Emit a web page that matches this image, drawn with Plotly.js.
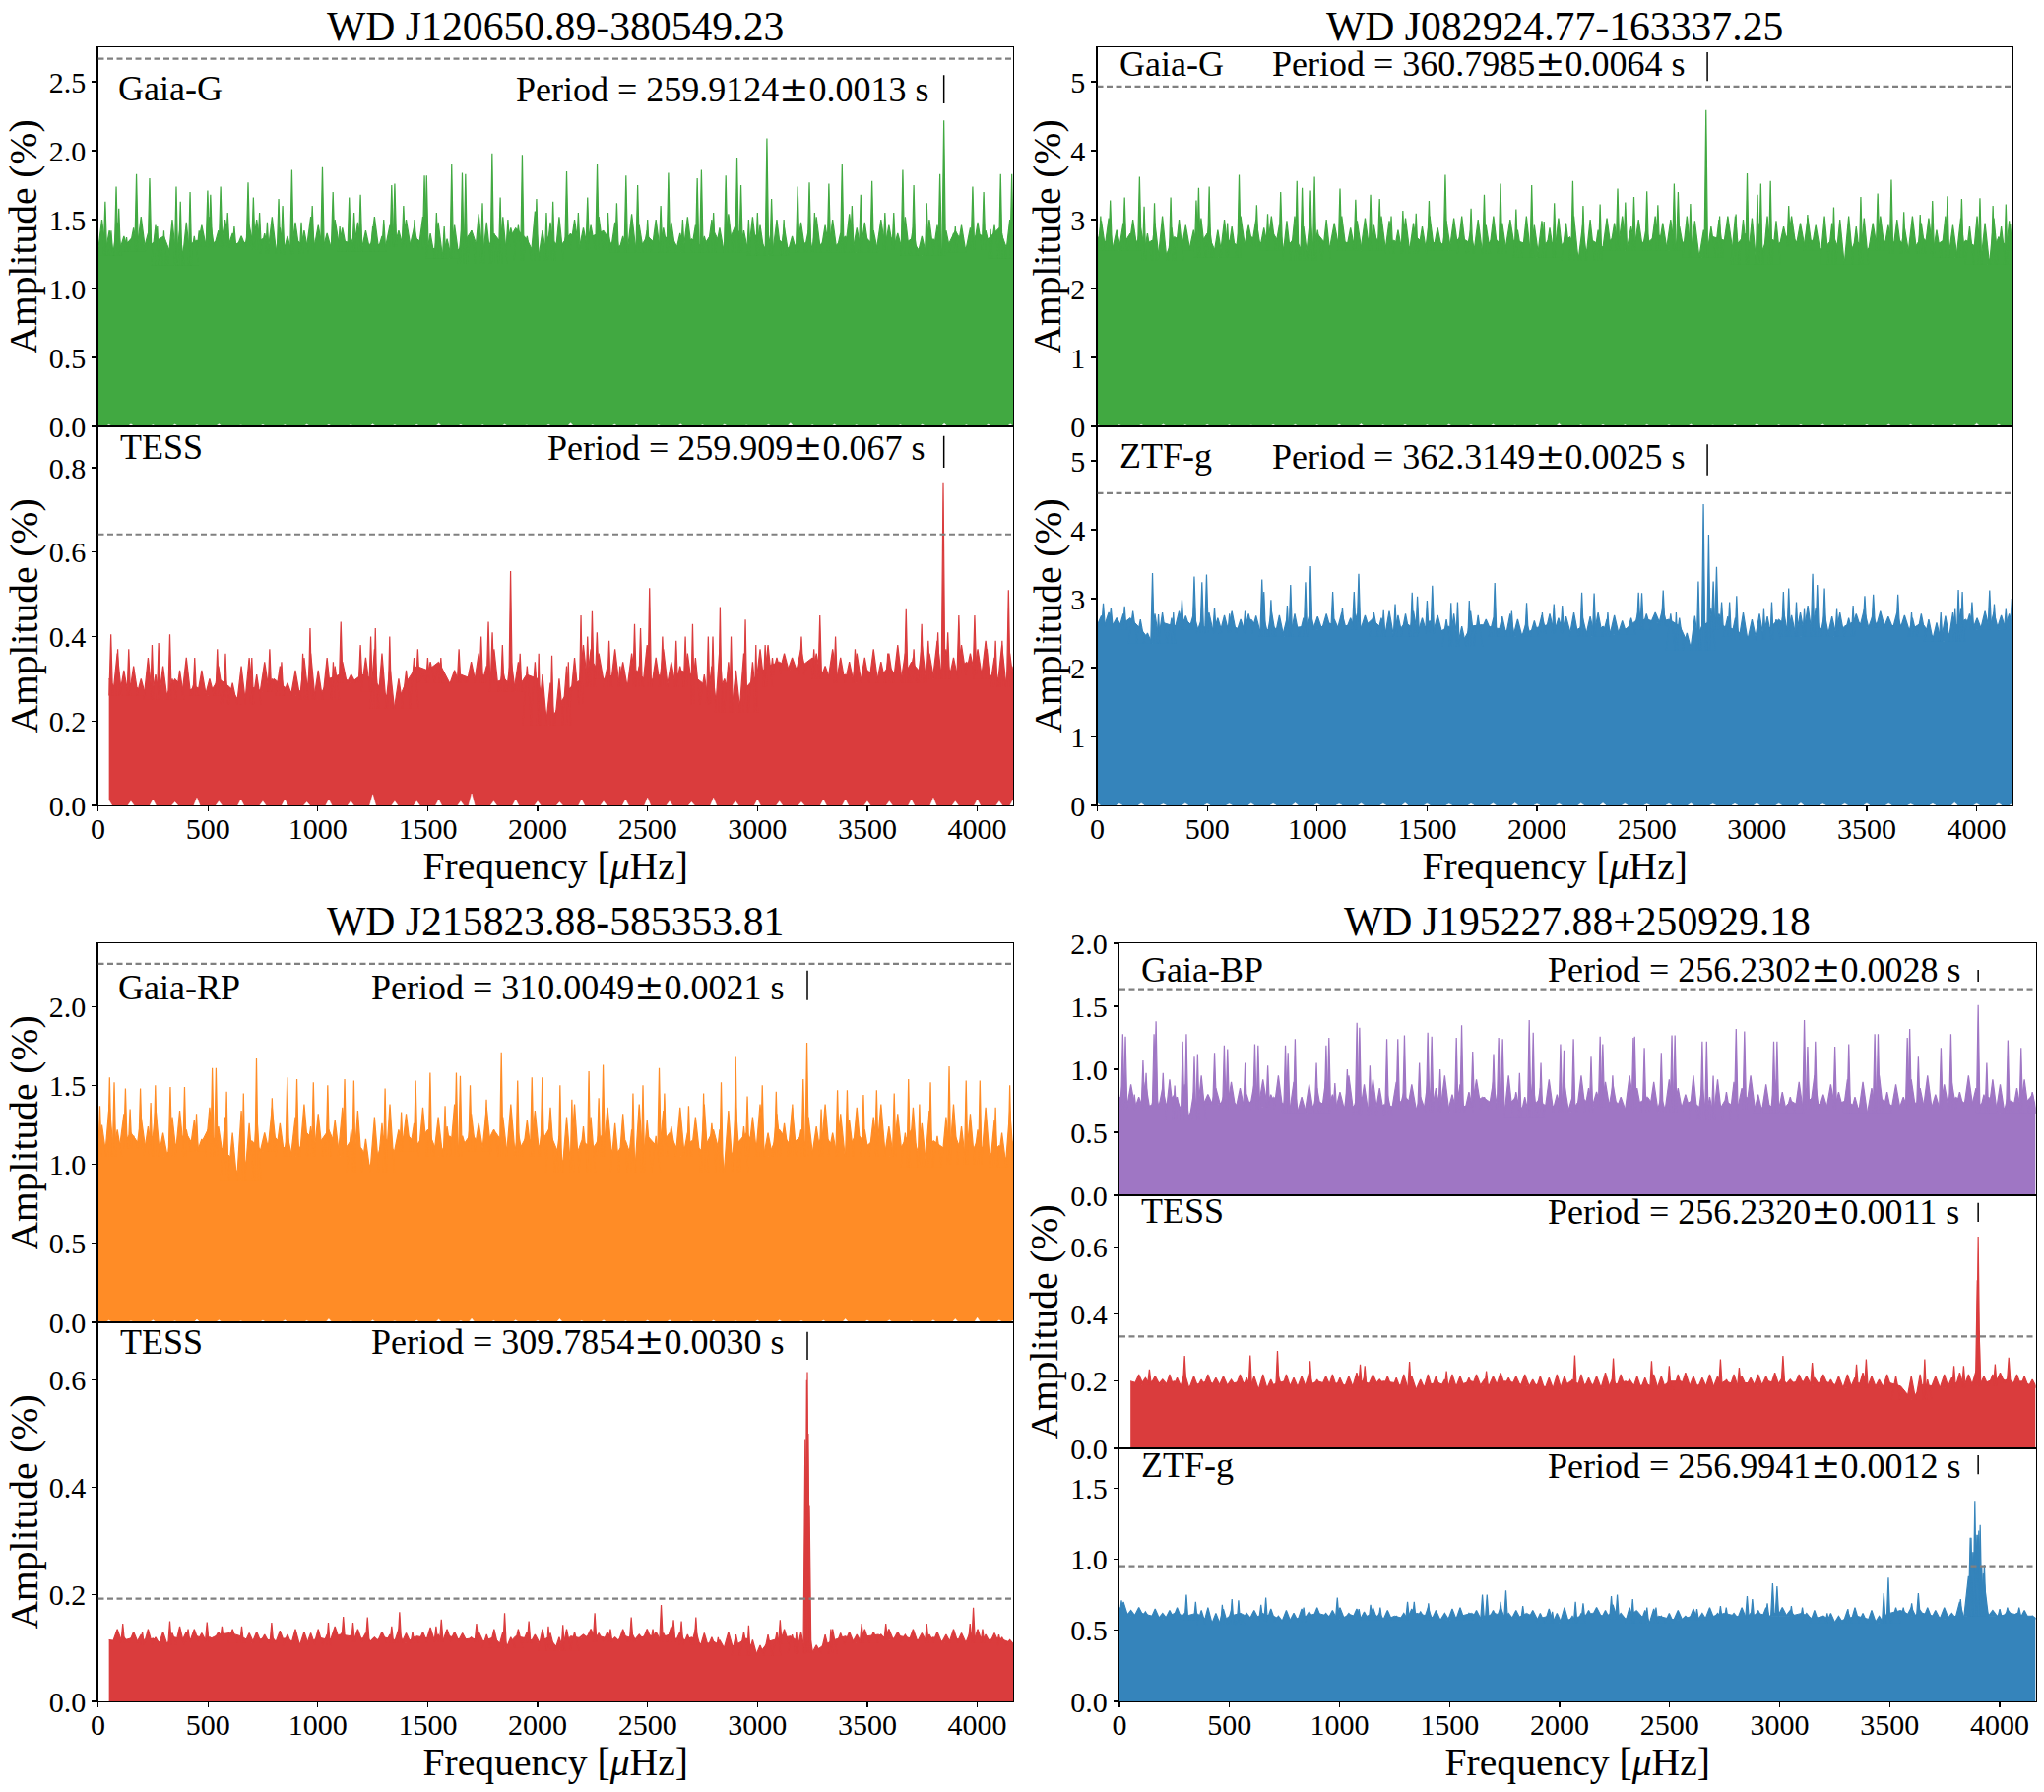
<!DOCTYPE html>
<html>
<head>
<meta charset="utf-8">
<script src="https://cdn.plot.ly/plotly-3.0.1.min.js"></script>
<style>html,body{margin:0;padding:0;background:#fff}</style>
</head>
<body>
<div id="chart"></div>
<script>
// frequency grid (uHz) for the dense part of the periodograms
var freqGrid = [0,50,100,150,200,250,300,350,400,450,500,550,600,650,700,750,800,
  850,900,950,1000,1050,1100,1150,1200,1250,1300,1350,1400,1450,1500,1550,1600,1650,
  1700,1750,1800,1850,1900,1950,2000,2050,2100,2150,2200,2250,2300,2350,2400,2450,2500,
  2550,2600,2650,2700,2750,2800,2850,2900,2950,3000,3050,3100,3150,3200,3250,3300,3350,
  3400,3450,3500,3550,3600,3650,3700,3750,3800,3850,3900,3950,4000,4050,4100,4150,4163];

// where the smaller spikes just above the dense part sit
var midFreq = [18,52,88,118,162,196,228,262,296,338,372,402,438,472,508,548,578,612,652,688,
  722,758,792,828,862,898,938,968,1002,1042,1078,1112,1152,1182,1218,1258,1292,1328,1368,1402,
  1438,1478,1512,1548,1588,1622,1658,1698,1732,1768,1802,1842,1878,1912,1952,1988,2022,2058,2098,2132,
  2168,2208,2242,2278,2318,2352,2388,2428,2462,2498,2538,2572,2608,2648,2682,2718,2758,2792,2828,2868,
  2902,2938,2978,3012,3048,3088,3122,3158,3198,3232,3268,3308,3342,3378,3418,3452,3488,3528,3562,3598,
  3638,3672,3708,3748,3782,3818,3858,3892,3928,3968,4002,4038,4078,4112,4148];

var titles = ['WD J120650.89-380549.23', 'WD J082924.77-163337.25', 'WD J215823.88-585353.81', 'WD J195227.88+250929.18'];

// WD J120650 Gaia-G
var a1Floor = [1.24,1.30,1.27,1.36,1.28,1.33,1.38,1.17,1.30,1.35,1.30,1.36,1.30,1.34,1.32,1.36,1.28,
  1.25,1.36,1.28,1.33,1.30,1.35,1.33,1.27,1.34,1.30,1.38,1.30,1.36,1.30,1.28,1.22,1.30,
  1.42,1.18,1.40,1.30,1.44,1.36,1.20,1.38,1.30,1.40,1.28,1.38,1.42,1.28,1.34,1.26,1.38,
  1.30,1.40,1.26,1.36,1.30,1.42,1.26,1.46,1.30,1.40,1.24,1.35,1.28,1.36,1.26,1.34,1.30,
  1.38,1.26,1.36,1.28,1.38,1.30,1.36,1.24,1.36,1.26,1.42,1.28,1.40,1.36,1.44,1.22,1.30];
var a1Mid = [1.50,1.42,1.48,1.38,1.44,1.52,1.40,1.46,1.36,1.50,1.42,1.48,1.38,1.46,1.52,1.42,1.50,1.40,1.38,1.46,
  1.50,1.40,1.52,1.44,1.38,1.48,1.42,1.52,1.46,1.40,1.50,1.44,1.36,1.48,1.42,1.52,1.38,1.46,1.42,1.50,
  1.44,1.52,1.40,1.48,1.36,1.46,1.50,1.42,1.54,1.48,1.40,1.52,1.44,1.46,1.38,1.56,1.42,1.48,1.52,1.40,
  1.50,1.44,1.46,1.52,1.42,1.48,1.38,1.54,1.46,1.42,1.50,1.44,1.48,1.40,1.52,1.46,1.38,1.50,1.44,1.54,
  1.48,1.42,1.52,1.46,1.40,1.50,1.44,1.38,1.48,1.42,1.52,1.46,1.50,1.40,1.54,1.44,1.48,1.42,1.50,1.46,
  1.40,1.52,1.44,1.38,1.50,1.46,1.42,1.40,1.46,1.44,1.48,1.42,1.46,1.40,1.50];
var a1PeakF = [33,60,83,95,130,175,200,235,270,300,356,375,419,460,499,512,558,590,620,683,707,735,770,822,840,882,925,975,1021,1069,1100,1143,1165,1194,1250,1300,1336,1350,1390,1440,1485,1495,1540,1575,1609,1657,1672,1749,1793,1830,1865,1930,1995,2040,2070,2132,2185,2227,2271,2320,2360,2402,2455,2500,2560,2595,2660,2726,2745,2800,2856,2907,2925,2960,3000,3043,3064,3120,3183,3236,3260,3325,3385,3430,3470,3521,3580,3620,3661,3711,3770,3830,3848,3900,3979,4029,4060,4106,4157];
var a1PeakA = [1.63,1.42,1.74,1.58,1.37,1.83,1.36,1.80,1.45,1.42,1.74,1.63,1.70,1.42,1.71,1.68,1.74,1.55,1.45,1.77,1.66,1.55,1.48,1.65,1.60,1.86,1.48,1.60,1.88,1.70,1.45,1.66,1.55,1.68,1.45,1.50,1.75,1.76,1.60,1.50,1.82,1.82,1.55,1.45,1.90,1.84,1.83,1.62,1.98,1.66,1.50,1.97,1.65,1.55,1.63,1.85,1.55,1.66,1.90,1.55,1.62,1.82,1.75,1.50,1.60,1.84,1.50,1.80,1.86,1.55,1.82,1.95,1.75,1.50,1.55,2.09,1.65,1.50,1.74,1.77,1.55,1.76,1.90,1.60,1.68,1.78,1.55,1.55,1.86,1.75,1.62,1.83,2.22,1.45,1.74,1.70,1.43,1.83,1.83];
var a1Gap = [0,.012,0,.016,0,.010,0,.014,0,.010,0,.016,0,.008,0,.012,0,
  .010,0,.014,0,.012,0,.010,0,.016,0,.010,0,.012,0,.020,0,.012,
  0,.010,0,.014,0,.008,0,.012,0,.024,0,.010,0,.014,0,.012,0,
  .010,0,.016,0,.010,0,.014,0,.008,0,.012,0,.024,0,.010,0,.014,
  0,.010,0,.012,0,.010,0,.014,0,.020,0,.010,0,.014,0,.016,0];

// WD J120650 TESS
var a2Floor = [null,.30,.26,.29,.27,.28,.25,.30,.27,.28,.26,.30,.28,.24,.28,.27,.30,
  .28,.26,.29,.25,.30,.31,.29,.31,.30,.27,.23,.29,.33,.32,.34,.29,.31,
  .30,.31,.29,.30,.27,.31,.30,.19,.24,.28,.30,.34,.30,.31,.28,.32,.29,
  .31,.28,.32,.31,.29,.24,.30,.22,.28,.31,.33,.34,.32,.33,.35,.31,.30,
  .31,.29,.32,.30,.33,.29,.34,.31,.30,.33,.31,.34,.32,.31,.30,.28,.33];
var a2Mid = [null,null,.36,.32,.33,.30,.35,.31,.33,.30,.32,.35,.29,.32,.30,.33,.31,.29,.33,.35,
  .31,.34,.30,.33,.29,.32,.35,.36,.32,.35,.33,.34,.31,.30,.35,.37,.36,.33,.30,.32,
  .35,.31,.34,.33,.29,.32,.30,.34,.36,.33,.37,.32,.35,.34,.33,.34,.31,.29,.30,.33,
  .35,.38,.37,.36,.33,.37,.34,.36,.33,.38,.35,.37,.34,.33,.36,.35,.31,.33,.37,.34,
  .32,.36,.34,.37,.38,.35,.36,.35,.37,.34,.36,.33,.37,.35,.34,.36,.35,.37,.34,.36,
  .38,.36,.35,.38,.36,.39,.37,.35,.38,.36,.37,.39,.35,.38,.36];
var a2PeakF = [59,90,140,246,276,327,440,543,580,700,781,835,932,965,1070,1105,1194,1241,1262,1327,1455,1500,1560,1642,1743,1776,1794,1840,1877,1920,2005,2065,2140,2197,2227,2248,2270,2325,2375,2441,2468,2509,2568,2630,2672,2705,2776,2797,2830,2880,2945,2993,3035,3068,3200,3257,3284,3355,3444,3593,3676,3711,3747,3777,3821,3845,3866,3916,3988,4044,4083,4113,4142];
var a2PeakA = [.405,.37,.37,.38,.385,.405,.35,.37,.36,.35,.37,.34,.36,.42,.34,.435,.38,.40,.42,.40,.37,.35,.35,.37,.40,.435,.41,.38,.555,.36,.36,.355,.34,.45,.40,.46,.41,.39,.33,.43,.42,.515,.40,.39,.40,.43,.40,.40,.47,.40,.44,.38,.38,.35,.40,.37,.45,.40,.37,.36,.465,.37,.43,.39,.41,.763,.41,.45,.45,.37,.39,.39,.51];
var a2Gap = [null,.012,0,.010,0,.014,0,.008,0,.018,0,.010,0,.014,0,.010,0,
  .014,0,.008,0,.014,0,.010,0,.026,0,.010,0,.010,0,.014,0,.010,
  .028,0,.010,0,.014,0,.010,0,.008,0,.014,0,.010,0,.014,0,.018,
  0,.010,0,.008,0,.018,0,.010,0,.014,0,.010,0,.008,0,.014,0,
  .014,0,.010,0,.010,0,.014,0,.018,0,.010,0,.014,0,.010,0,.014];

// WD J082924 Gaia-G
var b1Floor = [2.75,2.65,2.55,2.80,2.60,2.70,2.40,2.75,2.65,2.55,2.80,2.45,2.70,2.60,2.75,2.65,2.80,
  2.55,2.75,2.40,2.80,2.60,2.70,2.65,2.55,2.80,2.60,2.70,2.50,2.75,2.60,2.70,2.55,2.75,
  2.65,2.50,2.75,2.60,2.70,2.65,2.45,2.70,2.60,2.75,2.40,2.70,2.60,2.75,2.55,2.70,2.65,
  2.80,2.55,2.70,2.60,2.45,2.75,2.70,2.60,2.80,2.35,2.75,2.65,2.80,2.60,2.70,2.55,2.75,
  2.35,2.70,2.55,2.75,2.65,2.70,2.50,2.75,2.60,2.70,2.45,2.70,2.60,2.35,2.75,2.55,2.80];
var b1Mid = [2.98,3.02,2.85,2.95,3.00,2.90,2.80,2.95,3.05,2.88,3.00,2.92,2.85,3.02,2.95,2.85,3.00,2.90,3.05,2.92,
  3.00,2.88,3.05,2.92,2.98,3.05,2.90,3.02,2.85,3.00,2.95,3.05,2.88,2.98,3.02,2.92,3.05,2.98,2.85,3.02,
  2.95,2.90,3.05,2.88,2.98,3.02,3.05,2.85,3.00,2.92,3.05,2.95,3.00,2.85,3.05,2.92,2.98,2.88,3.02,2.95,
  3.05,2.92,3.00,2.85,3.02,2.95,3.05,2.90,3.00,2.88,3.05,2.95,3.00,2.90,3.05,2.98,2.85,2.90,3.00,3.05,
  3.05,3.00,3.02,2.95,3.05,2.98,2.90,3.05,2.95,3.02,2.92,3.05,2.95,3.00,3.05,2.90,3.02,2.95,3.05,2.92,
  3.00,2.88,3.05,2.95,3.02,2.85,3.05,2.92,3.02,2.90,3.05,2.95,3.02,2.90,2.98];
var b1PeakF = [15,59,124,192,213,260,334,450,461,509,592,645,725,775,834,908,932,970,988,1104,1175,1243,1284,1337,1390,1450,1509,1583,1700,1760,1834,1905,1976,2032,2079,2163,2210,2287,2367,2402,2441,2500,2550,2624,2642,2698,2769,2831,2905,2956,3003,3018,3062,3145,3231,3350,3473,3550,3612,3669,3743,3799,3867,3932,4015,4074,4133,4153];
var b1PeakA = [3.05,3.28,3.32,3.62,3.19,3.24,3.32,3.28,3.46,3.48,2.95,3.65,3.21,3.08,3.40,3.56,3.46,3.42,3.62,3.45,3.29,3.36,3.30,3.05,3.13,3.09,3.27,3.65,3.16,3.36,3.52,3.15,3.50,2.97,3.24,3.56,3.20,3.22,3.45,3.25,3.33,3.41,3.21,3.52,3.40,3.23,4.59,3.05,3.08,3.67,3.36,3.52,3.56,3.20,3.07,3.18,3.33,3.38,3.58,3.11,3.07,3.27,3.34,3.30,3.31,3.20,3.22,2.93];
var b1Gap = [.03,0,.02,0,.025,0,.03,0,.02,0,.025,0,.02,0,.015,0,.025,
  0,.025,0,.02,0,.03,0,.035,0,.02,0,.025,0,.02,0,.03,
  0,.025,0,.03,0,.015,0,.025,0,.04,0,.02,0,.025,0,.02,0,.025,
  0,.02,0,.03,0,.015,0,.025,0,.035,0,.02,0,.025,0,.03,0,
  .02,0,.025,0,.03,0,.025,0,.02,0,.025,0,.04,0,.03,0,.02];

// WD J082924 ZTF-g
var b2Floor = [2.60,2.65,2.60,2.72,2.55,2.35,2.65,2.60,2.70,2.55,2.60,2.50,2.62,2.55,2.70,2.50,2.60,
  2.45,2.58,2.60,2.55,2.65,2.58,2.62,2.55,2.70,2.55,2.45,2.65,2.55,2.60,2.50,2.60,2.30,
  2.60,2.62,2.58,2.55,2.45,2.50,2.58,2.62,2.55,2.50,2.58,2.45,2.60,2.48,2.55,2.68,2.70,
  2.65,2.70,2.60,2.25,2.60,2.70,2.60,2.55,2.45,2.40,2.55,2.70,2.55,2.45,2.65,2.55,2.45,
  2.60,2.68,2.58,2.65,2.60,2.62,2.55,2.65,2.45,2.38,2.60,2.70,2.55,2.62,2.55,2.60,2.65];
var b2Mid = [2.75,2.80,2.72,2.78,2.82,2.70,2.50,2.78,2.80,2.72,2.82,2.75,2.78,2.68,2.80,2.72,2.76,2.82,2.70,2.78,
  2.75,2.72,2.82,2.76,2.70,2.78,2.72,2.80,2.74,2.78,2.70,2.80,2.72,2.78,2.76,2.80,2.72,2.82,2.76,2.78,
  2.82,2.72,2.68,2.76,2.70,2.78,2.60,2.82,2.76,2.70,2.72,2.74,2.78,2.70,2.66,2.68,2.76,2.78,2.72,2.74,
  2.80,2.72,2.74,2.80,2.70,2.76,2.68,2.72,2.84,2.78,2.80,2.86,2.78,2.72,2.50,2.75,2.82,2.86,2.78,2.74,
  2.72,2.80,2.70,2.78,2.74,2.70,2.82,2.76,2.80,2.90,2.86,2.78,2.74,2.80,2.72,2.78,2.84,2.76,2.82,2.74,
  2.80,2.76,2.72,2.78,2.70,2.65,2.75,2.80,2.85,2.78,2.72,2.82,2.80,2.76,2.78];
var b2PeakF = [27,62,124,251,278,346,385,441,476,497,533,601,672,749,758,790,864,879,947,970,1003,1071,1115,1168,1189,1302,1355,1432,1456,1500,1524,1609,1639,1692,1808,1885,1953,2024,2077,2115,2204,2260,2322,2462,2477,2574,2633,2734,2757,2781,2802,2817,2840,2876,2908,3032,3068,3121,3145,3180,3216,3254,3275,3308,3364,3438,3491,3530,3642,3704,3837,3902,3917,3935,3979,4059,4080,4133,4160];
var b2PeakA = [2.93,2.87,2.89,3.37,2.77,2.8,2.98,3.32,3.24,3.35,2.87,2.78,2.82,3.28,3.1,2.98,2.9,3.2,3.24,3.47,2.72,3.1,2.87,3.10,3.36,2.83,2.92,3.09,3.03,2.97,3.19,2.94,2.95,2.97,3.23,2.82,2.94,2.8,2.92,2.9,3.09,3.08,2.8,3.09,3.08,3.12,2.8,3.25,4.37,3.93,3.25,3.46,2.95,2.95,3.04,2.85,2.95,3.1,3.15,2.95,2.85,3.36,3.2,3.15,2.85,2.9,3.04,3.06,3.06,2.8,2.8,2.85,3.13,3.1,2.95,3.12,2.92,2.85,3.0];
var b2Gap = [.035,0,.025,0,.03,0,.02,0,.03,0,.025,0,.02,0,.03,0,.025,
  0,.035,0,.025,0,.02,0,.03,0,.025,0,.035,0,.025,0,.02,0,
  .025,0,.03,0,.035,0,.02,0,.025,0,.03,0,.035,0,.025,0,.02,
  0,.025,0,.03,0,.02,0,.025,0,.03,0,.025,0,.035,0,.02,0,
  .025,0,.03,0,.025,0,.02,0,.025,0,.04,0,.025,0,.03,0,.025];

// WD J215823 Gaia-RP
var c1Floor = [1.05,1.15,1.10,1.20,1.10,1.18,1.05,1.12,1.20,1.08,1.22,1.12,1.05,.90,1.15,1.08,1.18,
  1.10,1.05,1.20,1.12,1.22,1.05,1.15,1.10,.95,1.18,1.08,1.20,1.12,1.22,1.05,1.18,1.10,
  1.20,1.08,1.22,1.12,1.05,1.18,1.10,1.22,1.05,.95,1.15,1.10,1.20,1.05,1.15,.95,1.18,
  1.10,1.20,1.05,1.15,1.08,1.22,.95,1.12,1.20,1.10,1.05,1.22,1.12,1.18,1.05,1.20,1.10,
  1.05,1.20,1.12,1.18,1.05,1.10,1.22,.98,1.15,1.10,1.18,1.00,1.15,1.05,1.12,.98,1.15];
var c1Mid = [1.25,1.38,1.22,1.32,1.18,1.30,1.24,1.36,1.20,1.30,1.34,1.22,1.28,1.16,1.36,1.24,1.30,1.20,1.34,1.26,
  1.32,1.20,1.36,1.26,1.18,1.30,1.38,1.24,1.32,1.20,1.28,1.36,1.22,1.34,1.16,1.30,1.26,1.38,1.22,1.32,
  1.26,1.36,1.20,1.30,1.24,1.38,1.18,1.32,1.26,1.36,1.22,1.30,1.38,1.20,1.28,1.34,1.24,1.36,1.18,1.30,
  1.38,1.24,1.30,1.20,1.36,1.26,1.32,1.22,1.38,1.28,1.18,1.34,1.24,1.36,1.20,1.30,1.38,1.26,1.22,1.34,
  1.36,1.24,1.30,1.38,1.20,1.32,1.26,1.36,1.22,1.30,1.24,1.38,1.20,1.32,1.28,1.36,1.22,1.30,1.38,1.24,
  1.32,1.20,1.36,1.26,1.34,1.18,1.30,1.38,1.24,1.32,1.22,1.36,1.28,1.20,1.34];
var c1PeakF = [9,53,74,125,146,193,240,261,329,394,448,520,537,585,662,721,792,861,905,980,1045,1122,1164,1306,1380,1445,1511,1579,1630,1648,1693,1767,1835,1909,1974,2021,2102,2156,2233,2278,2298,2434,2479,2553,2577,2687,2755,2835,2901,2954,3022,3085,3159,3208,3225,3290,3364,3408,3482,3542,3622,3687,3737,3787,3872,3949,4012,4083,4148];
var c1PeakA = [1.37,1.55,1.52,1.48,1.35,1.48,1.39,1.50,1.49,1.49,1.32,1.61,1.61,1.46,1.45,1.67,1.42,1.55,1.54,1.52,1.50,1.54,1.53,1.48,1.33,1.53,1.58,1.37,1.58,1.56,1.50,1.41,1.71,1.53,1.55,1.55,1.50,1.41,1.59,1.42,1.63,1.45,1.50,1.61,1.45,1.37,1.45,1.52,1.68,1.43,1.50,1.46,1.38,1.54,1.77,1.35,1.47,1.47,1.44,1.47,1.45,1.54,1.38,1.52,1.62,1.53,1.53,1.36,1.50];
var c1Gap = [0,.012,0,.008,0,.014,0,.008,0,.018,0,.014,0,.008,0,.012,0,
  .014,0,.010,0,.022,0,.008,0,.014,0,.008,0,.012,0,.018,0,.010,
  .024,0,.010,0,.014,0,.010,0,.022,0,.010,0,.014,0,.008,0,.012,
  0,.014,0,.010,0,.012,0,.008,0,.012,0,.014,0,.010,0,.012,0,
  .022,0,.012,0,.014,0,.010,0,.014,0,.022,0,.030,0,.014,0,.012];

// WD J215823 TESS
var c2Floor = [null,.115,.112,.118,.110,.118,.105,.120,.112,.122,.115,.125,.128,.122,.110,.118,.112,
  .118,.110,.105,.120,.115,.125,.122,.118,.112,.120,.115,.110,.122,.118,.112,.122,.115,
  .118,.112,.120,.100,.122,.118,.110,.120,.095,.122,.118,.125,.120,.112,.122,.115,.125,
  .118,.125,.112,.120,.105,.112,.100,.105,.118,.085,.112,.118,.122,.108,.090,.105,.115,
  .122,.110,.122,.125,.115,.122,.118,.112,.120,.110,.118,.110,.122,.115,.118,.110,.105];
var c2Mid = [null,null,.135,.12,.13,.125,.135,.12,.13,.128,.14,.13,.135,.128,.12,.13,.125,.135,.12,.128,
  .13,.125,.12,.132,.125,.135,.13,.128,.135,.125,.14,.13,.125,.135,.128,.12,.13,.125,.135,.128,
  .12,.13,.138,.125,.135,.13,.128,.12,.13,.125,.135,.13,.12,.135,.13,.125,.135,.128,.12,.135,
  .13,.125,.135,.128,.13,.12,.135,.128,.125,.135,.13,.128,.14,.13,.125,.135,.128,.12,.115,.13,
  .125,.13,.115,.105,.125,.13,.135,.125,.13,.14,.105,.125,.135,.128,.13,.125,.135,.13,.125,.135,
  .13,.125,.135,.128,.125,.13,.125,.135,.128,.13,.135,.125,.128,.12,.115];
var c2PeakF = [113,202,327,410,496,564,654,790,900,1048,1116,1160,1226,1336,1372,1431,1538,1562,1722,1850,1960,2049,2115,2260,2331,2426,2524,2562,2618,2654,2720,2821,2960,3103,3177,3217,3224,3227,3231,3236,3334,3474,3584,3770,3967,3982,4024,4098];
var c2PeakA = [.145,.13,.15,.135,.148,.14,.14,.147,.13,.147,.158,.147,.157,.14,.167,.13,.14,.153,.145,.165,.15,.14,.143,.165,.135,.157,.135,.18,.152,.15,.157,.12,.142,.152,.13,.49,.60,.615,.50,.365,.135,.145,.145,.145,.145,.175,.135,.125];

// WD J195227 Gaia-BP
var d1Floor = [.78,.70,.68,.72,.70,.80,.60,.72,.75,.72,.78,.68,.75,.70,.78,.72,.68,
  .65,.75,.70,.72,.68,.78,.64,.72,.70,.78,.68,.72,.75,.66,.70,.72,.78,
  .72,.68,.78,.62,.75,.70,.72,.66,.78,.70,.72,.75,.68,.72,.78,.66,.72,
  .70,.75,.68,.60,.75,.70,.78,.68,.72,.65,.75,.70,.78,.68,.72,.75,.70,
  .65,.78,.72,.68,.75,.70,.70,.68,.78,.72,.70,.78,.65,.75,.70,.80,.65];
var d1Mid = [.95,.88,.78,.9,.82,.85,.92,.78,.88,.82,.95,.8,.85,.78,.9,.85,.8,.88,.92,.8,
  .95,.82,.9,.78,.88,.85,.92,.8,.82,.95,.78,.88,.92,.85,.8,.9,.82,.88,.78,.92,
  .85,.95,.8,.88,.82,.92,.78,.9,.85,.95,.82,.78,.9,.85,.92,.8,.88,.78,.95,.85,
  .82,.9,.88,.78,.95,.85,.82,.9,.78,.92,.85,.8,.95,.88,.78,.92,.82,.9,.85,.95,
  .8,.88,.92,.82,.78,.9,.85,.95,.8,.88,.82,.92,.78,.9,.85,.95,.82,.88,.78,.92,
  .85,.95,.8,.88,.9,.82,.95,.85,.8,.92,.88,.8,.85,.92,.82];
var d1PeakF = [15,27,68,107,121,157,166,198,251,287,304,340,355,432,476,491,571,615,630,674,754,766,798,895,939,952,979,1035,1079,1091,1138,1215,1265,1295,1363,1401,1419,1457,1531,1555,1605,1700,1723,1741,1818,1862,1880,1915,2004,2020,2063,2143,2184,2196,2241,2335,2341,2385,2462,2510,2524,2648,2668,2698,2802,2840,2973,2988,3112,3127,3162,3251,3314,3432,3447,3580,3591,3630,3733,3778,3902,3941,4037,4097];
var d1PeakA = [1.28,1.26,.8,1.07,.97,1.28,1.38,.97,.87,1.22,1.28,1.1,1.12,1.13,1.19,1.16,1.05,1.2,1.19,1.03,1.19,1.13,1.24,1.05,1.19,1.25,.89,1.0,1.37,1.33,1.03,1.24,1.24,1.27,1.05,1.29,1.26,1.0,1.25,1.35,1.14,1.12,1.25,1.24,.97,1.39,1.29,1.05,1.2,1.15,1.24,1.1,1.26,1.2,.95,1.25,1.26,1.17,1.13,1.27,1.27,1.22,1.22,.95,1.32,1.3,1.22,1.22,1.39,1.18,1.22,1.18,1.2,1.28,1.28,1.25,1.32,1.1,1.17,1.28,1.51,1.05,1.23,1.17];

// WD J195227 TESS
var d2Floor = [null,.20,.19,.20,.19,.20,.18,.19,.20,.185,.19,.20,.185,.175,.19,.20,.18,
  .185,.20,.19,.195,.18,.20,.19,.20,.195,.18,.175,.19,.195,.18,.19,.20,.185,
  .19,.20,.195,.185,.19,.18,.175,.20,.19,.19,.18,.19,.20,.185,.19,.175,.20,
  .20,.185,.19,.18,.20,.19,.195,.185,.20,.19,.195,.20,.19,.20,.19,.18,.195,
  .19,.18,.195,.185,.145,.19,.185,.18,.195,.19,.185,.20,.21,.195,.20,.185,.18];
var d2Mid = [null,null,.22,.21,.215,.205,.22,.21,.225,.215,.205,.22,.21,.215,.205,.22,.21,.215,.22,.205,
  .215,.22,.21,.215,.225,.205,.215,.22,.21,.215,.225,.21,.22,.205,.215,.21,.22,.215,.205,.22,
  .215,.205,.22,.215,.21,.22,.205,.215,.225,.21,.215,.22,.205,.215,.21,.22,.215,.205,.22,.21,
  .215,.225,.21,.22,.205,.215,.21,.22,.215,.205,.22,.225,.215,.21,.22,.215,.205,.22,.215,.21,
  .22,.215,.225,.21,.205,.22,.215,.21,.22,.205,.215,.22,.21,.225,.215,.205,.22,.215,.175,.215,
  .22,.205,.215,.22,.21,.225,.22,.23,.215,.22,.225,.21,.22,.215,.205];
var d2PeakF = [136,296,594,718,866,1094,1115,1318,1486,1667,2069,2244,2418,2498,2731,2816,3015,3148,3349,3393,3659,3792,3836,3898,3902,3906,3979,4041];
var d2PeakA = [.235,.275,.277,.29,.26,.25,.245,.258,.23,.23,.277,.268,.26,.245,.265,.24,.275,.255,.25,.265,.265,.245,.245,.50,.63,.35,.25,.27];

// WD J195227 ZTF-g
var d3Floor = [.66,.60,.62,.60,.58,.62,.60,.62,.57,.54,.60,.62,.58,.61,.60,.56,.58,
  .60,.62,.60,.58,.61,.58,.62,.57,.60,.58,.62,.60,.58,.57,.60,.62,.58,
  .62,.60,.58,.62,.58,.60,.55,.58,.60,.62,.60,.62,.58,.64,.55,.60,.58,
  .57,.60,.58,.60,.62,.60,.58,.62,.60,.60,.60,.62,.58,.60,.55,.58,.60,
  .58,.55,.62,.64,.60,.62,.60,.58,.60,.60,.85,.60,.60,.62,.60,.60,.58];
var d3Mid = [.70,.64,.66,.63,.65,.62,.64,.66,.62,.60,.64,.66,.62,.65,.64,.60,.62,.64,.62,.65,
  .60,.64,.62,.65,.63,.66,.62,.64,.66,.62,.65,.63,.66,.62,.64,.60,.62,.65,.63,.66,
  .64,.62,.65,.66,.62,.64,.60,.64,.66,.62,.64,.60,.64,.62,.65,.62,.66,.60,.62,.64,
  .66,.64,.68,.62,.66,.60,.64,.65,.60,.62,.64,.60,.65,.62,.66,.62,.60,.62,.66,.62,
  .64,.66,.62,.66,.64,.60,.62,.64,.60,.62,.60,.64,.66,.62,.64,.60,.62,.66,.64,.66,
  .64,.66,.64,.66,.62,.70,.88,1.0,.85,.64,.60,.64,.62,.64,.60];
var d3PeakF = [9,304,346,467,511,541,643,665,837,990,1088,1141,1185,1309,1339,1404,1649,1670,1732,1756,1833,1967,2072,2107,2235,2262,2332,2397,2438,2624,2731,2757,2852,2876,2944,2968,2988,3053,3103,3216,3310,3473,3494,3562,3600,3630,3674,3822,3866,3870,3875,3880,3887,3893,3900,3905,3911,3918,3925,3930,4000,4035,4088];
var d3PeakA = [.71,.75,.70,.68,.72,.71,.68,.73,.66,.73,.65,.68,.66,.70,.70,.69,.75,.75,.70,.78,.67,.63,.70,.69,.74,.75,.72,.66,.66,.65,.67,.66,.74,.72,.69,.83,.81,.67,.66,.62,.65,.76,.87,.66,.69,.76,.62,.72,1.15,1.15,1.05,1.05,1.41,1.17,1.17,1.20,1.24,.95,.90,.96,.65,.66,.66];

// significance thresholds, text and marker values per panel (same order as the panels below)
var thresholds = [2.667, .642, 4.93, 4.53, 2.27, .192, 1.635, .333, .95];
var bands = ['Gaia-G', 'TESS', 'Gaia-G', 'ZTF-g', 'Gaia-RP', 'TESS', 'Gaia-BP', 'TESS', 'ZTF-g'];
var periodLeft = ['Period = 259.9124', 'Period = 259.909', 'Period = 360.7985', 'Period = 362.3149',
  'Period = 310.0049', 'Period = 309.7854', 'Period = 256.2302', 'Period = 256.2320', 'Period = 256.9941'];
var periodErr = ['0.0013 s', '0.067 s', '0.0064 s', '0.0025 s', '0.0021 s', '0.0030 s', '0.0028 s', '0.0011 s', '0.0012 s'];
var markFreq = [3848, 3848, 2775, 2775, 3227, 3227, 3902, 3902, 3902];

var red = '#DA3C3D', green = '#41A941', blue = '#3584BB', orange = '#FF8C26', purple = '#9F76C4';
var serif = 'Liberation Serif';
var maxFreq = 4163;

// px boxes come from the reference layout, ylab is the px column of the y title (null = none)
var panels = [
  {l: 99.5, r: 1029, t: 48, b: 433, top: 2.75, dtick: .5, fmt: '.1f', color: green, floor: a1Floor, mid: a1Mid, pf: a1PeakF, pa: a1PeakA, gap: a1Gap, ylab: 24, xtitle: false, bandX: 84, bandY: 2.45, perX: 1891, perY: 2.45, m0: 2.343, m1: 2.548},
  {l: 99.5, r: 1029, t: 433, b: 818, top: .898, dtick: .2, fmt: '.1f', color: red, floor: a2Floor, mid: a2Mid, pf: a2PeakF, pa: a2PeakA, gap: a2Gap, ylab: 24, xtitle: true, bandX: 90, bandY: .848, perX: 2037, perY: .848, m0: .80, m1: .875},
  {l: 1114.5, r: 2044, t: 48, b: 433, top: 5.5, dtick: 1, fmt: 'd', color: green, floor: b1Floor, mid: b1Mid, pf: b1PeakF, pa: b1PeakA, gap: b1Gap, ylab: 1064, xtitle: false, bandX: 90, bandY: 5.26, perX: 787, perY: 5.26, m0: 5.01, m1: 5.43},
  {l: 1114.5, r: 2044, t: 433, b: 818, top: 5.5, dtick: 1, fmt: 'd', color: blue, floor: b2Floor, mid: b2Mid, pf: b2PeakF, pa: b2PeakA, gap: b2Gap, ylab: 1064, xtitle: true, bandX: 90, bandY: 5.07, perX: 787, perY: 5.07, m0: 4.79, m1: 5.24},
  {l: 99.5, r: 1029, t: 958, b: 1343, top: 2.4, dtick: .5, fmt: '.1f', color: orange, floor: c1Floor, mid: c1Mid, pf: c1PeakF, pa: c1PeakA, gap: c1Gap, ylab: 24, xtitle: false, bandX: 84, bandY: 2.12, perX: 1235, perY: 2.12, m0: 2.04, m1: 2.227},
  {l: 99.5, r: 1029, t: 1343, b: 1728, top: .708, dtick: .2, fmt: '.1f', color: red, floor: c2Floor, mid: c2Mid, pf: c2PeakF, pa: c2PeakA, gap: null, ylab: 24, xtitle: true, bandX: 90, bandY: .672, perX: 1235, perY: .672, m0: .638, m1: .69},
  {l: 1137, r: 2067.5, t: 958, b: 1214, top: 2, dtick: .5, fmt: '.1f', color: purple, floor: d1Floor, mid: d1Mid, pf: d1PeakF, pa: d1PeakA, gap: null, ylab: null, xtitle: false, bandX: 89, bandY: 1.79, perX: 1936, perY: 1.79, m0: 1.695, m1: 1.79},
  {l: 1137, r: 2067.5, t: 1214, b: 1471, top: .753, dtick: .2, fmt: '.1f', color: red, floor: d2Floor, mid: d2Mid, pf: d2PeakF, pa: d2PeakA, gap: null, ylab: 1060, xtitle: false, bandX: 89, bandY: .706, perX: 1936, perY: .706, m0: .674, m1: .73},
  {l: 1137, r: 2067.5, t: 1471, b: 1728, top: 1.778, dtick: .5, fmt: '.1f', color: blue, floor: d3Floor, mid: d3Mid, pf: d3PeakF, pa: d3PeakA, gap: null, ylab: null, xtitle: true, bandX: 89, bandY: 1.66, perX: 1936, perY: 1.66, m0: 1.596, m1: 1.73},
];

var W = 2076, H = 1820;
var data = [];
var annotations = [];
var shapes = [];
var layout = {
  width: W, height: H, autosize: false,
  margin: {l: 0, r: 0, t: 0, b: 0},
  paper_bgcolor: '#fff', plot_bgcolor: 'rgba(0,0,0,0)',
  showlegend: false,
  font: {family: serif, color: '#000'},
};

// lowest floor level around a frequency, so a spike never overhangs the fill
function floorUnder(floor, f) {
  var i = Math.floor(f / 50);
  var near = [floor[i - 1], floor[i], floor[i + 1], floor[i + 2]].filter(function(v) {
    return v !== null && v !== undefined;
  });
  return Math.min.apply(null, near);
}

// each spike is a small triangle that sits on the dense part
function addSpikes(sx, sy, freqs, amps, floor, halfWidth) {
  freqs.forEach(function(f, k) {
    if (amps[k] === null) return;
    var base = floorUnder(floor, f);
    sx.push(f - halfWidth, f, f + halfWidth, null);
    sy.push(base, amps[k], base, null);
  });
}

panels.forEach(function(p, i) {
  var n = i + 1;
  var xName = 'x' + n, yName = 'y' + n;

  data.push({
    x: freqGrid, y: p.floor, xaxis: xName, yaxis: yName,
    type: 'scatter', mode: 'lines', fill: 'tozeroy',
    fillcolor: p.color, line: {color: p.color, width: 1},
    hoverinfo: 'skip',
  });

  var sx = [], sy = [];
  addSpikes(sx, sy, midFreq, p.mid, p.floor, 20);
  addSpikes(sx, sy, p.pf, p.pa, p.floor, 8);
  data.push({
    x: sx, y: sy, xaxis: xName, yaxis: yName,
    type: 'scatter', mode: 'lines', fill: 'toself',
    fillcolor: p.color, line: {color: p.color, width: 1.2},
    hoverinfo: 'skip',
  });

  // white specks along the zero line, where the periodogram touches it
  if (p.gap) {
    var gx = [], gy = [];
    freqGrid.forEach(function(f, k) {
      if (!p.gap[k]) return;
      gx.push(f - 14, f, f + 14, null);
      gy.push(0, p.gap[k], 0, null);
    });
    data.push({
      x: gx, y: gy, xaxis: xName, yaxis: yName,
      type: 'scatter', mode: 'lines', fill: 'toself',
      fillcolor: '#fff', line: {color: '#fff', width: 0.5},
      hoverinfo: 'skip',
    });
  }

  layout['xaxis' + n] = {
    domain: [p.l / W, p.r / W], anchor: yName, range: [0, maxFreq],
    showgrid: false, zeroline: false, showline: true, mirror: true,
    linecolor: '#000', linewidth: 1.3,
    ticks: p.xtitle ? 'outside' : '', ticklen: 5, tickwidth: 1.2, tickcolor: '#000',
    dtick: 500, tick0: 0, showticklabels: p.xtitle, ticklabelstandoff: -8,
    tickfont: {family: serif, size: 30, color: '#000'},
    title: p.xtitle ? {text: 'Frequency [<i>μ</i>Hz]', standoff: 3, font: {family: serif, size: 39.6, color: '#000'}} : undefined,
  };
  layout['yaxis' + n] = {
    domain: [1 - p.b / H, 1 - p.t / H], anchor: xName, range: [0, p.top],
    showgrid: false, zeroline: false, showline: true, mirror: true,
    linecolor: '#000', linewidth: 1.3,
    ticks: 'outside', ticklen: 5, tickwidth: 1.2, tickcolor: '#000',
    dtick: p.dtick, tick0: 0, tickformat: p.fmt,
    tickfont: {family: serif, size: 30, color: '#000'},
  };

  // y titles sit at different distances in each column, so they are placed by hand
  if (p.ylab !== null) {
    annotations.push({
      xref: 'paper', yref: 'paper', x: p.ylab / W, y: 1 - (p.t + p.b) / 2 / H,
      text: 'Amplitude (%)', textangle: -90, showarrow: false, xanchor: 'center', yanchor: 'middle',
      font: {family: serif, size: 39.5, color: '#000'},
    });
  }

  shapes.push({
    type: 'line', xref: xName, yref: yName,
    x0: 0, x1: maxFreq, y0: thresholds[i], y1: thresholds[i],
    line: {color: '#808080', width: 2.2, dash: '6px,3.5px'},
  });
  shapes.push({
    type: 'line', xref: xName, yref: yName,
    x0: markFreq[i], x1: markFreq[i], y0: p.m0, y1: p.m1,
    line: {color: '#000', width: 1.5},
  });

  annotations.push({
    xref: xName, yref: yName, x: p.bandX, y: p.bandY,
    text: bands[i], showarrow: false, xanchor: 'left', yanchor: 'middle',
    font: {family: serif, size: 36, color: '#000'},
  });
  annotations.push({
    xref: xName, yref: yName, x: p.perX, y: p.perY,
    text: periodLeft[i] + '<span style="font-family:DejaVu Serif">±</span>' + periodErr[i],
    showarrow: false, xanchor: 'left', yanchor: 'middle',
    font: {family: serif, size: 36, color: '#000'},
  });
});

// one title above each star
var titleX = [564, 1579, 564, 1602];
var titleY = [27, 27, 936, 936];
titles.forEach(function(t, i) {
  annotations.push({
    xref: 'paper', yref: 'paper', x: titleX[i] / W, y: 1 - titleY[i] / H,
    text: t, showarrow: false, xanchor: 'center', yanchor: 'middle',
    font: {family: serif, size: 41.7, color: '#000'},
  });
});

layout.annotations = annotations;
layout.shapes = shapes;

Plotly.newPlot('chart', data, layout, {displayModeBar: false, staticPlot: true});
</script>
</body>
</html>
